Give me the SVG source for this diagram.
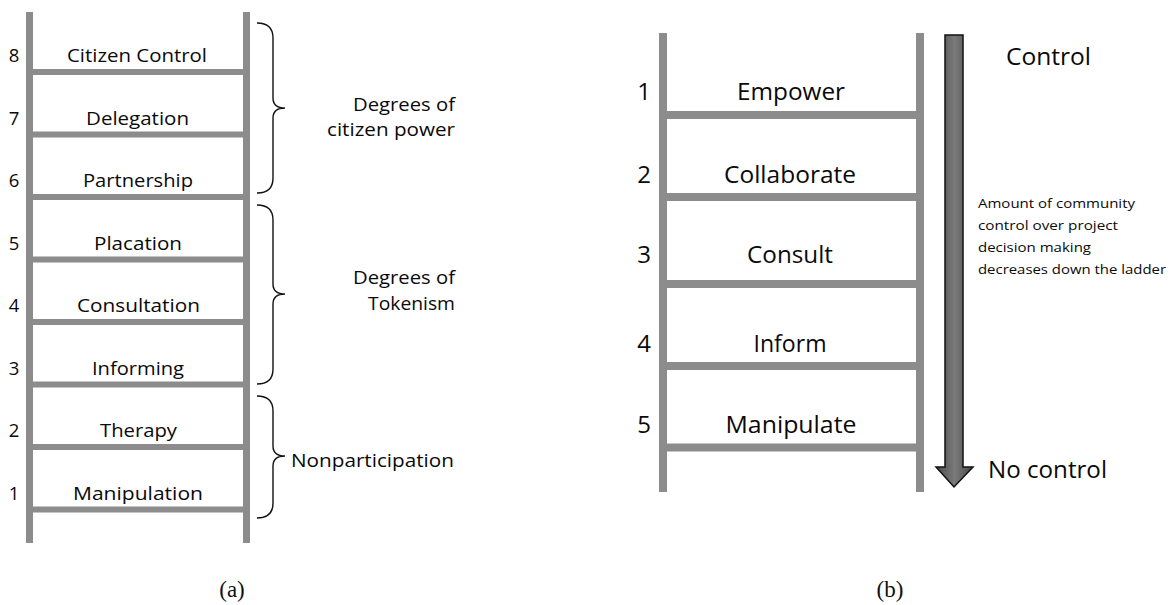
<svg xmlns="http://www.w3.org/2000/svg" width="1172" height="605" viewBox="0 0 1172 605">
  <style>
    .rail { fill: #8c8c8c; }
    .lbl { font-family: "Open Sans", "DejaVu Sans", sans-serif; fill: #0a0a0a; }
    .a-step { font-size: 17.5px; text-anchor: middle; }
    .a-num { font-size: 18.5px; text-anchor: middle; }
    .group { font-size: 17.5px; text-anchor: end; }
    .b-step { font-size: 23.4px; text-anchor: middle; }
    .b-num { font-size: 24px; text-anchor: middle; }
    .big { font-size: 24.5px; }
    .note { font-size: 13.3px; }
    .brace { fill: none; stroke: #111; stroke-width: 1.4; }
    .cap { font-family: "Liberation Serif", serif; font-size: 23px; fill: #111; text-anchor: middle; }
  </style>
  <defs>
    <linearGradient id="shaftGrad" x1="0" y1="0" x2="1" y2="0">
      <stop offset="0" stop-color="#4a4a4a"/>
      <stop offset="0.5" stop-color="#7a7a7a"/>
      <stop offset="1" stop-color="#4a4a4a"/>
    </linearGradient>
  </defs>
  <rect width="1172" height="605" fill="#ffffff"/>

  <!-- Ladder (a): Arnstein's eight rungs -->
  <g id="ladder-a">
    <rect class="rail" x="26" y="12" width="7" height="531"/>
    <rect class="rail" x="243" y="12" width="7" height="531"/>
    <rect class="rail" x="29" y="69" width="218" height="6"/>
    <rect class="rail" x="29" y="131.5" width="218" height="6"/>
    <rect class="rail" x="29" y="194" width="218" height="6"/>
    <rect class="rail" x="29" y="256.5" width="218" height="6"/>
    <rect class="rail" x="29" y="319" width="218" height="6"/>
    <rect class="rail" x="29" y="381.5" width="218" height="6"/>
    <rect class="rail" x="29" y="444" width="218" height="6"/>
    <rect class="rail" x="29" y="506.5" width="218" height="6"/>
  </g>

  <g id="step-a8"><text class="lbl a-num" x="14" y="62">8</text><text class="lbl a-step" x="137" y="62" textLength="140" lengthAdjust="spacingAndGlyphs">Citizen Control</text></g>
  <g id="step-a7"><text class="lbl a-num" x="14" y="124.5">7</text><text class="lbl a-step" x="137.5" y="124.5" textLength="103" lengthAdjust="spacingAndGlyphs">Delegation</text></g>
  <g id="step-a6"><text class="lbl a-num" x="14" y="187">6</text><text class="lbl a-step" x="138" y="187" textLength="110" lengthAdjust="spacingAndGlyphs">Partnership</text></g>
  <g id="step-a5"><text class="lbl a-num" x="14" y="249.5">5</text><text class="lbl a-step" x="138" y="249.5" textLength="88" lengthAdjust="spacingAndGlyphs">Placation</text></g>
  <g id="step-a4"><text class="lbl a-num" x="14" y="312">4</text><text class="lbl a-step" x="138.5" y="312" textLength="123" lengthAdjust="spacingAndGlyphs">Consultation</text></g>
  <g id="step-a3"><text class="lbl a-num" x="14" y="374.5">3</text><text class="lbl a-step" x="138" y="374.5" textLength="92" lengthAdjust="spacingAndGlyphs">Informing</text></g>
  <g id="step-a2"><text class="lbl a-num" x="14" y="437">2</text><text class="lbl a-step" x="138.5" y="437" textLength="77" lengthAdjust="spacingAndGlyphs">Therapy</text></g>
  <g id="step-a1"><text class="lbl a-num" x="14" y="499.5">1</text><text class="lbl a-step" x="138" y="499.5" textLength="130" lengthAdjust="spacingAndGlyphs">Manipulation</text></g>

  <!-- Braces grouping the rungs -->
  <g id="group-power">
    <path class="brace" d="M257,23 Q273,23 273,38 L273,98 Q273,108 285,108 Q273,108 273,118 L273,178 Q273,193 257,193"/>
    <text class="lbl group" x="455" y="111" textLength="102" lengthAdjust="spacingAndGlyphs">Degrees of</text>
    <text class="lbl group" x="455" y="136" textLength="128" lengthAdjust="spacingAndGlyphs">citizen power</text>
  </g>
  <g id="group-tokenism">
    <path class="brace" d="M257,205 Q273,205 273,220 L273,284 Q273,294 285,294 Q273,294 273,304 L273,369 Q273,384 257,384"/>
    <text class="lbl group" x="455" y="284" textLength="102" lengthAdjust="spacingAndGlyphs">Degrees of</text>
    <text class="lbl group" x="455" y="310" textLength="87" lengthAdjust="spacingAndGlyphs">Tokenism</text>
  </g>
  <g id="group-nonparticipation">
    <path class="brace" d="M257,396 Q273,396 273,411 L273,446 Q273,456 285,456 Q273,456 273,466 L273,503 Q273,518 257,518"/>
    <text class="lbl" x="291" y="467" font-size="17.5px" textLength="163" lengthAdjust="spacingAndGlyphs">Nonparticipation</text>
  </g>

  <text class="cap" x="232" y="597">(a)</text>

  <!-- Ladder (b): five levels of engagement -->
  <g id="ladder-b">
    <rect class="rail" x="659" y="33" width="8" height="459"/>
    <rect class="rail" x="916" y="33" width="8" height="459"/>
    <rect class="rail" x="663" y="111" width="257" height="8"/>
    <rect class="rail" x="663" y="193" width="257" height="8"/>
    <rect class="rail" x="663" y="280" width="257" height="8"/>
    <rect class="rail" x="663" y="362" width="257" height="8"/>
    <rect class="rail" x="663" y="443.5" width="257" height="8"/>
  </g>

  <g id="step-b1"><text class="lbl b-num" x="644" y="100">1</text><text class="lbl b-step" x="791" y="100" textLength="108" lengthAdjust="spacingAndGlyphs">Empower</text></g>
  <g id="step-b2"><text class="lbl b-num" x="644" y="183">2</text><text class="lbl b-step" x="790" y="183" textLength="132" lengthAdjust="spacingAndGlyphs">Collaborate</text></g>
  <g id="step-b3"><text class="lbl b-num" x="644" y="263">3</text><text class="lbl b-step" x="790" y="263" textLength="86" lengthAdjust="spacingAndGlyphs">Consult</text></g>
  <g id="step-b4"><text class="lbl b-num" x="644" y="352">4</text><text class="lbl b-step" x="790" y="352" textLength="73" lengthAdjust="spacingAndGlyphs">Inform</text></g>
  <g id="step-b5"><text class="lbl b-num" x="644" y="433">5</text><text class="lbl b-step" x="791" y="433" textLength="131" lengthAdjust="spacingAndGlyphs">Manipulate</text></g>

  <!-- Downward arrow: control decreases down the ladder -->
  <g id="connectors">
    <polygon points="945,35 963,35 963,467 973,467 954,487 936,467 945,467" fill="url(#shaftGrad)" stroke="#111" stroke-width="1.5" stroke-linejoin="miter"/>
  </g>

  <g id="label-control"><text class="lbl big" x="1006" y="65" textLength="85" lengthAdjust="spacingAndGlyphs">Control</text></g>
  <g id="label-note">
    <text class="lbl note" x="978" y="208" textLength="157" lengthAdjust="spacingAndGlyphs">Amount of community</text>
    <text class="lbl note" x="978" y="230" textLength="140" lengthAdjust="spacingAndGlyphs">control over project</text>
    <text class="lbl note" x="978" y="252" textLength="113" lengthAdjust="spacingAndGlyphs">decision making</text>
    <text class="lbl note" x="978" y="274" textLength="188" lengthAdjust="spacingAndGlyphs">decreases down the ladder</text>
  </g>
  <g id="label-nocontrol"><text class="lbl big" x="988" y="478" textLength="119" lengthAdjust="spacingAndGlyphs">No control</text></g>

  <text class="cap" x="890" y="597">(b)</text>
</svg>
